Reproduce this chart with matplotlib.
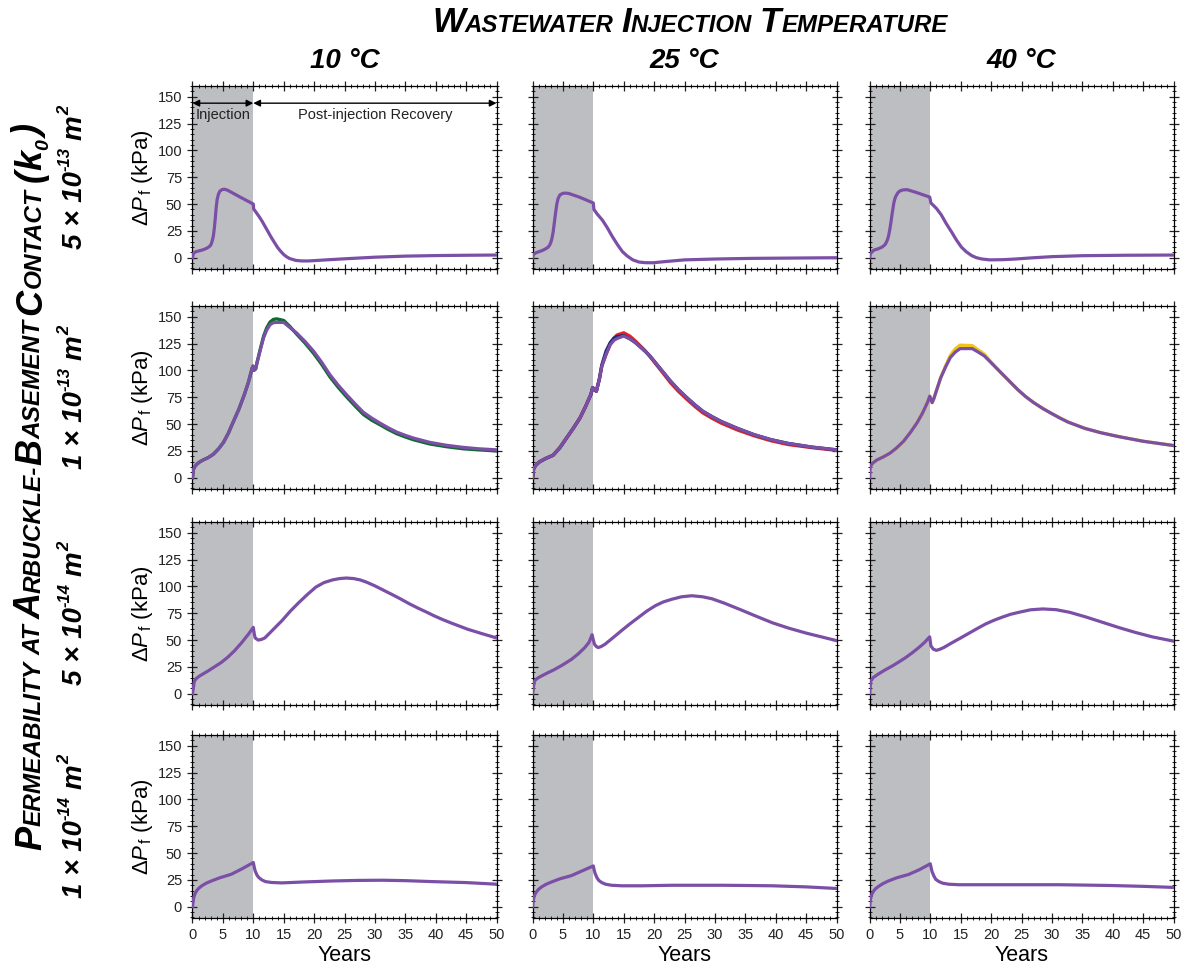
import numpy as np
import matplotlib
matplotlib.use('Agg')
import matplotlib.pyplot as plt
from matplotlib.text import Annotation
from matplotlib.ticker import MultipleLocator

W, H = 1185, 972
plt.rcParams['font.family'] = ['Liberation Sans', 'DejaVu Sans']
plt.rcParams['mathtext.fontset'] = 'custom'
plt.rcParams['mathtext.rm'] = 'Liberation Sans'
plt.rcParams['mathtext.it'] = 'Liberation Sans:italic'
plt.rcParams['mathtext.bf'] = 'Liberation Sans:bold'

# ---------------- data ----------------
temperatures = ['10 °C', '25 °C', '40 °C']
perm_mantissa = ['5', '1', '5', '1']
perm_exponent = ['-13', '-13', '-14', '-14']

# Row 1: k0 = 5e-13
T_r1c1 = [0, 0.15, 0.5, 1, 1.5, 2, 2.4, 2.9, 3.1, 3.3, 3.45, 3.6, 3.75, 3.9, 4.05, 4.25, 4.5, 4.9, 5.3, 5.8,
          8, 10, 10.05, 10.5, 11, 11.5, 12, 12.5, 13, 13.5, 14, 14.5, 15, 15.5, 16, 17, 18, 19, 20, 22,
          25, 30, 35, 40, 45, 50]
P_r1c1 = [0, 4, 5.5, 6.3, 7, 8, 9, 11, 13, 17, 21, 28, 37, 47, 54, 59, 62, 63.6, 63.8, 62.8,
          56, 50, 45.5, 42, 38, 33.5, 28.5, 23.5, 18.5, 14, 9.5, 6, 3, 0.8, -0.8, -2.5, -3, -3, -2.7, -2,
          -1, 0.5, 1.5, 2, 2.3, 2.5]
T_r1c2 = [0, 0.15, 0.5, 1, 1.5, 2, 2.5, 2.8, 3.0, 3.2, 3.4, 3.6, 3.8, 4.0, 4.2, 4.5, 5.0, 5.5, 6, 7.7,
          10, 10.1, 10.6, 11.5, 12.3, 13.1, 14, 14.8, 15.6, 16.5, 17.5, 18.5, 19.8, 22, 25, 30, 36, 50]
P_r1c2 = [0, 3, 4.5, 5.5, 6.5, 7.8, 9.5, 11.5, 14, 18, 24, 33, 42, 50, 55, 58.5, 60, 60.2, 59.8, 56.5,
          51, 45, 41, 35, 28, 20, 12, 5.6, 1.5, -2, -4, -4.6, -4.7, -3.5, -2, -1.2, -0.6, 0]
T_r1c3 = [0, 0.15, 0.7, 1.5, 2.1, 2.6, 2.9, 3.1, 3.3, 3.5, 3.75, 4.0, 4.2, 4.4, 4.7, 5.0, 5.5, 6.2, 7.6,
          9.9, 10.1, 11, 11.8, 12.6, 13.5, 14.3, 15.1, 15.9, 16.8, 17.6, 18.5, 19.8, 22, 24, 27, 30, 35,
          42, 50]
P_r1c3 = [0, 4, 7, 8.5, 10, 12.5, 16, 19.5, 25, 32, 42, 51, 55.5, 58, 60.8, 62.2, 63.2, 63.4, 61,
          56.5, 51, 46, 40, 32, 24, 16.5, 10, 5.6, 2, 0, -1.2, -2, -1.8, -1.2, 0, 1, 1.9,
          2.3, 2.5]

# Row 2: k0 = 1e-13
T_r2c1 = [0, 0.16, 0.4, 0.7, 1.2, 1.8, 2.6, 3.45, 4.3, 5.1, 5.9, 6.7, 7.6, 8.5, 9.2, 9.8, 9.95, 10.1,
          10.4, 10.6, 11.2, 11.7, 12.2, 12.75, 13.3, 13.85, 15, 16, 17.1, 18.5, 19.9, 21.2, 22.6, 24,
          25.4, 26.8, 28.1, 29.5, 30.8, 32.2, 33.6, 35, 36.3, 39, 41.7, 44.5, 47, 50]
P_r2c1 = [0, 8, 10.5, 12.6, 14.8, 16.7, 18.8, 22, 27, 33, 41.5, 52, 63.5, 77, 89, 102, 104, 100,
          101.5, 107, 120, 130.5, 137.5, 142.5, 144.5, 144.7, 144.7, 140, 135, 127, 118, 108, 96, 86,
          77, 68.5, 61, 55.5, 51, 46.5, 42.5, 39.5, 37, 33, 30.3, 28.3, 27, 26]
P_r2c1_green = [0, 8, 10.5, 12.6, 14.8, 16.7, 18.8, 22, 27, 33, 41.5, 52, 63.5, 77, 89, 102, 104, 100,
                101.5, 107, 121, 132, 139.5, 145, 147.5, 148, 146.5, 141, 134, 125.5, 116, 106, 94, 84,
                75, 66.5, 59, 53.5, 49.5, 45, 41, 38, 35.5, 31.5, 29, 27, 26, 25]
T_r2c2 = [0, 0.2, 0.6, 1.2, 2.2, 3.4, 4.5, 5.6, 6.7, 7.8, 8.7, 9.6, 9.9, 10.2, 10.5, 11, 11.4, 12.1,
          12.8, 13.4, 13.9, 15, 16, 16.9, 17.7, 18.5, 19.3, 20, 21.4, 22.7, 24, 25.5, 26.8, 28, 29.5,
          31, 33.7, 36.5, 39.2, 42, 46, 50]
P_r2c2 = [0, 8.75, 12, 15, 18, 21, 28, 37, 46, 55.6, 66, 77.5, 84, 82, 80.6, 92, 104, 115,
          124, 128, 129.7, 132, 129.5, 126, 122, 118, 113.5, 108.7, 99, 90, 82, 74, 67.5, 62, 57,
          52.5, 46, 40, 35.5, 32, 28.5, 26]
P_r2c2_red = [0, 8.75, 12, 15, 18, 21, 28, 37, 46, 55.6, 66, 77.5, 84, 82, 80.6, 92, 104, 115,
              125, 130, 133, 135, 132, 127.5, 123, 118.5, 113, 108, 98, 88.5, 80.5, 72.5, 66, 60.5, 55.5,
              51, 44.5, 39, 34.5, 31, 28, 25.5]
P_r2c2_navy = [0, 8.75, 12, 15, 18, 21, 28, 37, 46, 55.6, 66, 77.5, 84, 82, 80.6, 92, 105, 118,
               126, 130, 131.5, 132.5, 129.5, 126, 122, 118, 113.5, 108.7, 99, 90, 82, 74, 67.5, 62, 57,
               52.5, 46, 40, 35.5, 32, 28.5, 26]
T_r2c3 = [0, 0.1, 0.5, 1.2, 2.3, 3.4, 4.5, 5.6, 6.7, 7.8, 8.7, 9.6, 9.9, 10.1, 10.3, 10.6, 11, 11.7,
          12.5, 13.3, 14.1, 14.9, 16.9, 17.9, 18.9, 20.2, 21.6, 23, 24.4, 25.7, 27, 28.5, 29.9, 31.2,
          32.6, 35.4, 38, 40.9, 45, 50]
P_r2c3 = [0, 10, 13.5, 16.5, 19.5, 23, 28, 34, 42, 51, 60, 71, 76, 73, 70, 74, 81, 93,
          103, 112, 117, 120.3, 120.3, 117, 113.4, 106, 98, 90, 82, 75.5, 70, 64.5, 60, 56,
          52, 46, 42, 38.4, 34, 30]
P_r2c3_gold = [0, 10, 13.5, 16.5, 19.5, 23, 28, 34, 42, 51, 60, 71, 76, 73, 70, 74, 81, 93,
               104, 114, 120, 123.5, 123, 119, 115, 106.5, 98, 90, 82, 75.5, 70, 64.5, 60, 56,
               52, 46, 42, 38.4, 34, 30]

# Row 3: k0 = 5e-14
T_r3c1 = [0, 0.3, 0.6, 1.1, 1.8, 2.5, 3.6, 4.7, 5.8, 6.9, 8, 9.2, 10, 10.15, 10.3, 10.8, 11.3, 11.9,
          13.3, 14.7, 16.1, 17.5, 18.9, 20.3, 21.6, 23, 24.2, 25.3, 26.5, 27.6, 28.6, 30, 31.4, 32.8,
          34.2, 35.6, 37, 38.4, 39.7, 41.1, 42.5, 43.9, 45.3, 47.6, 50]
P_r3c1 = [0, 11.6, 14, 16.3, 18.7, 21, 25, 29, 34, 40, 47, 55.5, 61.8, 56, 52, 50, 50.5, 52,
          60, 68, 77, 85, 92.5, 99.4, 103.5, 106, 107.3, 107.8, 107.3, 106, 104, 100.5, 96.5, 92.5,
          88.4, 84, 80, 76.3, 72.7, 69.2, 66, 63, 60, 56, 52]
T_r3c2 = [0, 0.3, 0.7, 1.4, 2.5, 3.6, 5, 6.4, 7.5, 8.6, 9.3, 9.8, 10.0, 10.2, 10.5, 10.8, 11.3, 11.9,
          13.2, 14.6, 16, 17.4, 18.8, 20.2, 21.5, 22.9, 24.5, 26.2, 28, 29.5, 31.5, 34, 36.8, 39.5,
          42.2, 45, 47.5, 50]
P_r3c2 = [0, 11.6, 14, 16.3, 19.5, 22.5, 27, 32, 37, 43, 48, 55, 50, 46, 44, 43, 44, 46,
          52, 58.6, 65, 71, 77, 82, 85.5, 88, 90.3, 91.3, 90.3, 88.5, 84.5, 78.8, 72.2, 66,
          61, 56.5, 53, 49.5]
T_r3c3 = [0, 0.2, 0.6, 1.3, 2.5, 3.7, 4.8, 5.9, 7, 8.1, 9, 9.9, 10.1, 10.5, 11, 11.6, 12.2, 13.6,
          15, 16.4, 17.8, 19.1, 20.5, 21.9, 23.2, 24.6, 26.5, 28.5, 30.7, 32.9, 35.6, 38.4, 41.1,
          43.8, 46.5, 50]
P_r3c3 = [0, 11.6, 15, 17.8, 22, 25.7, 29.5, 33.5, 38, 43, 47.5, 53, 44.5, 41.5, 40.4, 41.5, 43, 47.6,
          52, 56.5, 61, 65, 68.5, 71.5, 74, 75.9, 78.2, 79, 78.3, 75.9, 71.5, 66.4, 61.5,
          57, 53, 49]

# Row 4: k0 = 1e-14
T_r4 = [0, 0.1, 0.2, 0.4, 0.66, 1, 1.5, 2.2, 3.1, 4.5, 6.4, 8.2, 10, 10.15, 10.3, 10.6, 10.9, 11.4,
        12, 13, 14.7, 18, 23, 27, 31.2, 35, 39.5, 45, 50]
P_r4c1 = [0, 5, 8.4, 12, 14.7, 17, 19.4, 21.8, 24, 27, 30.3, 35.5, 41.2, 37, 33.4, 29.5, 27.2, 25,
          23.4, 22.6, 22.2, 23, 24, 24.5, 24.7, 24.3, 23.4, 22.5, 21]
P_r4c2 = [0, 5, 8, 11.5, 14, 16.2, 18.5, 20.8, 23, 26, 29, 33.5, 38, 34, 31, 27, 24.5, 22.5,
          21, 20, 19.5, 19.5, 20, 20, 20, 19.8, 19.5, 18.5, 17]
P_r4c3 = [0, 5, 8, 12, 14.5, 16.8, 19, 21.5, 24, 27, 30, 34.5, 40, 36, 32.5, 28.5, 25.5, 23.5,
          22, 21, 20.5, 20.5, 20.5, 20.5, 20.5, 20.2, 19.8, 19, 18]

PURPLE = '#7b4fa6'
GREEN = '#0d6b2e'
RED = '#e8231f'
NAVY = '#202a78'
GOLD = '#f0c419'
GRAY = '#bdbec2'

panels = {
    (0, 0): (T_r1c1, P_r1c1, []),
    (0, 1): (T_r1c2, P_r1c2, []),
    (0, 2): (T_r1c3, P_r1c3, []),
    (1, 0): (T_r2c1, P_r2c1, [(GREEN, P_r2c1_green)]),
    (1, 1): (T_r2c2, P_r2c2, [(RED, P_r2c2_red), (NAVY, P_r2c2_navy)]),
    (1, 2): (T_r2c3, P_r2c3, [(GOLD, P_r2c3_gold)]),
    (2, 0): (T_r3c1, P_r3c1, []),
    (2, 1): (T_r3c2, P_r3c2, []),
    (2, 2): (T_r3c3, P_r3c3, []),
    (3, 0): (T_r4, P_r4c1, []),
    (3, 1): (T_r4, P_r4c2, []),
    (3, 2): (T_r4, P_r4c3, []),
}

# ---------------- layout ----------------
fig = plt.figure(figsize=(W / 100, H / 100), dpi=100)
col_left = [192.5, 532.5, 869.5]
ax_w = 304
row_top = [86, 306, 522, 735]
ax_h = 183

axes = {}
for r in range(4):
    for c in range(3):
        ax = fig.add_axes([col_left[c] / W, 1 - (row_top[r] + ax_h) / H, ax_w / W, ax_h / H])
        axes[(r, c)] = ax
        t, y, variants = panels[(r, c)]
        ax.axvspan(0, 10, color=GRAY, lw=0, zorder=0)
        for col, yv in variants:
            ax.plot(t, yv, color=col, lw=2.4, zorder=2, solid_joinstyle='round')
        ax.plot(t, y, color=PURPLE, lw=2.3, zorder=3, solid_joinstyle='round')
        ax.set_xlim(0, 50)
        ax.set_ylim(-10.5, 160)
        ax.xaxis.set_major_locator(MultipleLocator(5))
        ax.xaxis.set_minor_locator(MultipleLocator(1))
        ax.yaxis.set_major_locator(MultipleLocator(25))
        ax.yaxis.set_minor_locator(MultipleLocator(5))
        ax.tick_params(which='both', direction='inout', top=True, right=True,
                       labelsize=10.5, colors='#222222')
        ax.tick_params(which='major', length=7, width=0.9, pad=4)
        ax.tick_params(which='minor', length=3.5, width=0.7)
        for sp in ax.spines.values():
            sp.set_linewidth(0.9)
        if c > 0:
            ax.tick_params(labelleft=False)
        else:
            ax.set_ylabel(r'$\Delta P_{\,\mathrm{f}}$ (kPa)', fontsize=16, labelpad=2)
        if r < 3:
            ax.tick_params(labelbottom=False)
        else:
            ax.set_xlabel('Years', fontsize=15.5, labelpad=2)

# annotation arrows in first panel
ax0 = axes[(0, 0)]
ax0.annotate('', xy=(0, 144), xytext=(10, 144),
             arrowprops=dict(arrowstyle='<|-|>', color='black', lw=1.0, mutation_scale=10,
                             shrinkA=0, shrinkB=0))
ax0.annotate('', xy=(10, 144), xytext=(50, 144),
             arrowprops=dict(arrowstyle='<|-|>', color='black', lw=1.0, mutation_scale=10,
                             shrinkA=0, shrinkB=0))
ax0.text(5, 133, 'Injection', ha='center', va='center', fontsize=10.5, color='#222222')
ax0.text(30, 133, 'Post-injection Recovery', ha='center', va='center', fontsize=10.5, color='#222222')

# column titles
for c, lab in enumerate(temperatures):
    fig.text((col_left[c] + ax_w / 2) / W, 1 - 68 / H, lab, fontsize=20, fontweight='bold',
             fontstyle='italic', ha='center', va='baseline')


# chained text pieces (small caps, superscripts)
def chain(pieces, x_px, y_px, rot=False):
    arts = []
    prev = None
    kw = dict(fontweight='bold', fontstyle='italic')
    for txt, size, rise, gap in pieces:
        if prev is None:
            if rot:
                a = fig.text(x_px / W, 1 - y_px / H, txt, fontsize=size, rotation=90,
                             rotation_mode='anchor', ha='left', va='baseline', **kw)
            else:
                a = fig.text(x_px / W, 1 - y_px / H, txt, fontsize=size,
                             ha='left', va='baseline', **kw)
        else:
            if rot:
                a = Annotation(txt, xy=(x_px / W, 1), xycoords=('figure fraction', prev),
                               xytext=(-rise, gap), textcoords='offset points', fontsize=size,
                               rotation=90, rotation_mode='anchor', ha='left', va='baseline', **kw)
            else:
                a = Annotation(txt, xy=(1, 1 - y_px / H), xycoords=(prev, 'figure fraction'),
                               xytext=(gap, rise), textcoords='offset points', fontsize=size,
                               ha='left', va='baseline', **kw)
            fig.add_artist(a)
        arts.append(a)
        prev = a
    return arts


def extent(arts, renderer):
    bbs = [a.get_window_extent(renderer) for a in arts]
    return (min(b.x0 for b in bbs), max(b.x1 for b in bbs),
            min(b.y0 for b in bbs), max(b.y1 for b in bbs))


BIG, SMALL = 25, 17.3
title_pieces = [('W', BIG, 0, 0), ('ASTEWATER', SMALL, 0, 0),
                ('I', BIG, 0, 5.5), ('NJECTION', SMALL, 0, 0),
                ('T', BIG, 0, 5.5), ('EMPERATURE', SMALL, 0, 0)]
title_arts = chain(title_pieces, 432, 32)

LB, LS = 26, 17.6
left_pieces = [('P', LB, 0, 0), ('ERMEABILITY', LS, 0, 0), ('AT', LS, 0, 4),
               ('A', LB, 0, 4), ('RBUCKLE-', LS, 0, 0), ('B', LB, 0, 0), ('ASEMENT', LS, 0, 0),
               ('C', LB, 0, 4), ('ONTACT', LS, 0, 0), ('(', LB, 0, 5), ('k', LB, 0, 0),
               ('0', 14, -5, 0), (')', LB, 0, 0)]
left_arts = chain(left_pieces, 41, 850, rot=True)

row_arts = []
for r in range(4):
    pcs = [(perm_mantissa[r] + ' × 10', 20, 0, 0), (perm_exponent[r], 12, 9, 0),
           ('m', 20, 0, 5), ('2', 12, 9, 0)]
    arts = chain(pcs, 82, row_top[r] + ax_h / 2 + 70, rot=True)
    row_arts.append(arts)

# center row labels on their axes
fig.canvas.draw()
renderer = fig.canvas.get_renderer()
for r in range(4):
    arts = row_arts[r]
    x0, x1, y0, y1 = extent(arts, renderer)
    target = H - (row_top[r] + ax_h / 2)
    dy = target - (y0 + y1) / 2
    px, py = arts[0].get_position()
    arts[0].set_position((px, py + dy / H))

fig.savefig('out.png', dpi=100)
